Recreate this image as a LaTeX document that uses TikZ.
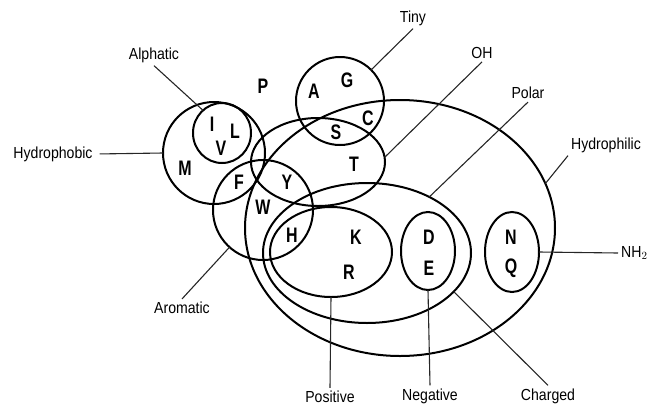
\documentclass[tikz,border=0pt]{standalone}
\usepackage{fontspec}
\setmainfont{Liberation Sans}
\newfontfamily\labelfont[FakeStretch=0.88]{Liberation Sans}
\newfontfamily\letterfont[FakeStretch=0.76]{Liberation Sans Bold}
\usetikzlibrary{shapes.geometric}
\begin{document}
\begin{tikzpicture}[x=1pt,y=-1pt,
  set/.style={draw,ellipse,line width=2pt,inner sep=0pt,outer sep=0pt},
  aa/.style={font=\letterfont\fontsize{21}{21}\selectfont,inner sep=0pt},
  lbl/.style={font=\labelfont\fontsize{16}{16}\selectfont,inner sep=3pt},
  lead/.style={line width=1.1pt,black!85}]
\useasboundingbox (0,0) rectangle (649,408);

% sets
\node[set,minimum width=102pt,minimum height=102pt] (hphob) at (214,153) {};
\node[set,minimum width=58pt,minimum height=60pt] (aliph) at (222,133) {};
\node[set,minimum width=100pt,minimum height=100pt] (arom) at (263,210) {};
\node[set,minimum width=88pt,minimum height=88pt] (tiny) at (340,101) {};
\node[set,minimum width=134pt,minimum height=88pt] (oh) at (318,162) {};
\node[set,minimum width=310pt,minimum height=256pt] (hphil) at (400,228) {};
\node[set,minimum width=208pt,minimum height=140pt] (chg) at (367,253) {};
\node[set,minimum width=122pt,minimum height=90pt] (pos) at (331,252) {};
\node[set,minimum width=54pt,minimum height=78pt] (neg) at (428,251) {};
\node[set,minimum width=54pt,minimum height=80pt] (amide) at (512,252) {};

% amino acids
\node[aa] (P) at (263,86) {P};
\node[aa] (A) at (314,91) {A};
\node[aa] (G) at (347,80) {G};
\node[aa] (C) at (368,118) {C};
\node[aa] (S) at (336,132) {S};
\node[aa] (T) at (354,164) {T};
\node[aa] (I) at (212,124) {I};
\node[aa] (L) at (235,131) {L};
\node[aa] (V) at (221,148) {V};
\node[aa] (M) at (185,168) {M};
\node[aa] (F) at (239,182) {F};
\node[aa] (Y) at (287,182) {Y};
\node[aa] (W) at (263,207) {W};
\node[aa] (H) at (292,235) {H};
\node[aa] (K) at (356,237) {K};
\node[aa] (R) at (349,272) {R};
\node[aa] (D) at (429,237) {D};
\node[aa] (E) at (429,268) {E};
\node[aa] (N) at (511,237) {N};
\node[aa] (Q) at (511,268) {Q};

% labels
\node[lbl] (lAlph) at (154,55) {Alphatic};
\node[lbl] (lHphob) at (53,154) {Hydrophobic};
\node[lbl] (lTiny) at (413,18) {Tiny};
\node[lbl] (lOH) at (482,53) {OH};
\node[lbl] (lPolar) at (528,93) {Polar};
\node[lbl] (lHphil) at (606,145) {Hydrophilic};
\node[lbl,anchor=west] (lNH2) at (618,253) {NH$_2$};
\node[lbl] (lArom) at (182,308) {Aromatic};
\node[lbl] (lPos) at (330,397) {Positive};
\node[lbl] (lNeg) at (430,396) {Negative};
\node[lbl] (lChg) at (548,396) {Charged};

% leader lines
\draw[lead] (lAlph.south) -- (aliph.130);
\draw[lead,shorten <=4pt] (lHphob.east) -- (hphob.180);
\draw[lead] (lTiny.south) -- (tiny.45);
\draw[lead] (lOH.south) -- (oh.4);
\draw[lead] (lPolar.south) -- (chg.42);
\draw[lead] (lHphil.south west) -- (hphil.17);
\draw[lead] (amide.east) -- (lNH2.west);
\draw[lead] (lArom.north) -- (arom.228);
\draw[lead] (pos.south) -- (lPos.north);
\draw[lead] (neg.south) -- (lNeg.north);
\draw[lead] (chg.-24) -- (lChg.north);
\end{tikzpicture}
\end{document}
